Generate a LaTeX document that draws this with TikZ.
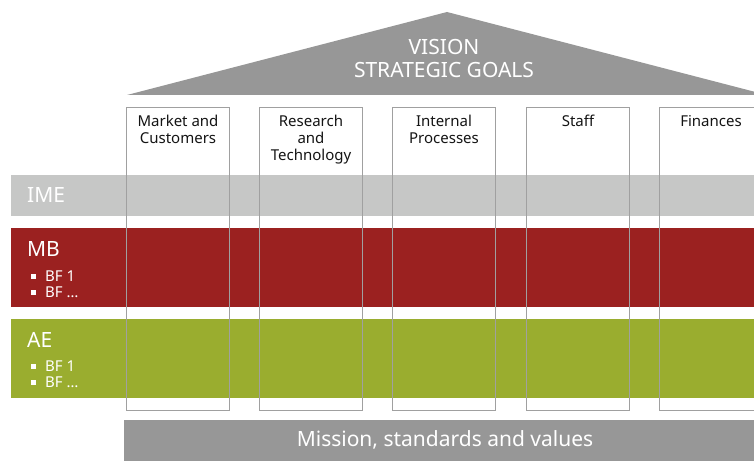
\documentclass[tikz,border=0pt]{standalone}
\usepackage{fontspec}
\setmainfont{Noto Sans}
\definecolor{roofgray}{RGB}{151,151,151}
\definecolor{imegray}{RGB}{198,199,198}
\definecolor{mbred}{RGB}{155,33,32}
\definecolor{aegreen}{RGB}{154,173,47}
\definecolor{pillarline}{RGB}{160,160,160}
\definecolor{txt}{RGB}{20,20,20}
\tikzset{
  band/.style={rectangle, inner sep=0pt, anchor=north west, minimum width=760pt},
  pillar/.style={rectangle, draw=pillarline, line width=1pt, inner sep=0pt, anchor=north west, minimum width=103pt, minimum height=303pt},
  plabel/.style={anchor=north, align=center, text=txt, font=\fontsize{15}{17}\selectfont, inner sep=0pt},
  bandtitle/.style={anchor=west, text=white, font=\fontsize{21}{24}\selectfont, inner sep=0pt},
  bullet/.style={anchor=west, text=white, font=\fontsize{15}{16}\selectfont, inner sep=0pt},
  sq/.style={rectangle, fill=white, minimum size=5pt, inner sep=0pt},
}
\begin{document}
\begin{tikzpicture}[x=1pt,y=-1pt]
\useasboundingbox (0,0) rectangle (754,462);
% roof
\fill[roofgray] (127,95) -- (447,12) -- (767,95) -- cycle;
\node[text=white, align=center, font=\fontsize{21}{23}\selectfont, inner sep=0pt] (vision) at (444,58) {VISION\\STRATEGIC GOALS};
% bands
\node[band, fill=imegray, minimum height=41pt] (ime) at (11,175) {};
\node[band, fill=mbred, minimum height=79pt] (mb) at (11,228) {};
\node[band, fill=aegreen, minimum height=79pt] (ae) at (11,319) {};
% pillars
\foreach \i/\x in {1/126,2/259,3/392,4/526,5/659}{
  \node[pillar] (p\i) at (\x,107) {};
}
\node[plabel] (l1) at ([yshift=-8pt]p1.north) {Market and\\Customers};
\node[plabel] (l2) at ([yshift=-8pt]p2.north) {Research\\and\\Technology};
\node[plabel] (l3) at ([yshift=-8pt]p3.north) {Internal\\Processes};
\node[plabel] (l4) at ([yshift=-8pt]p4.north) {Staff};
\node[plabel] (l5) at ([yshift=-8pt]p5.north) {Finances};
% band texts
\node[bandtitle] (imet) at (27,195) {IME};
\node[bandtitle] (mbt) at (27,249) {MB};
\node[sq] (mbs1) at (33,276) {};
\node[bullet] (mbb1) at (45,276) {BF 1};
\node[sq] (mbs2) at (33,292) {};
\node[bullet] (mbb2) at (45,292) {BF \dots};
\node[bandtitle] (aet) at (27,340) {AE};
\node[sq] (aes1) at (33,366) {};
\node[bullet] (aeb1) at (45,366) {BF 1};
\node[sq] (aes2) at (33,382) {};
\node[bullet] (aeb2) at (45,382) {BF \dots};
% foundation
\node[rectangle, fill=roofgray, inner sep=0pt, anchor=north west, minimum width=640pt, minimum height=41pt] (base) at (124,420) {};
\node[text=white, font=\fontsize{21}{24}\selectfont, inner sep=0pt] (mission) at (445,440) {Mission, standards and values};
\end{tikzpicture}
\end{document}
